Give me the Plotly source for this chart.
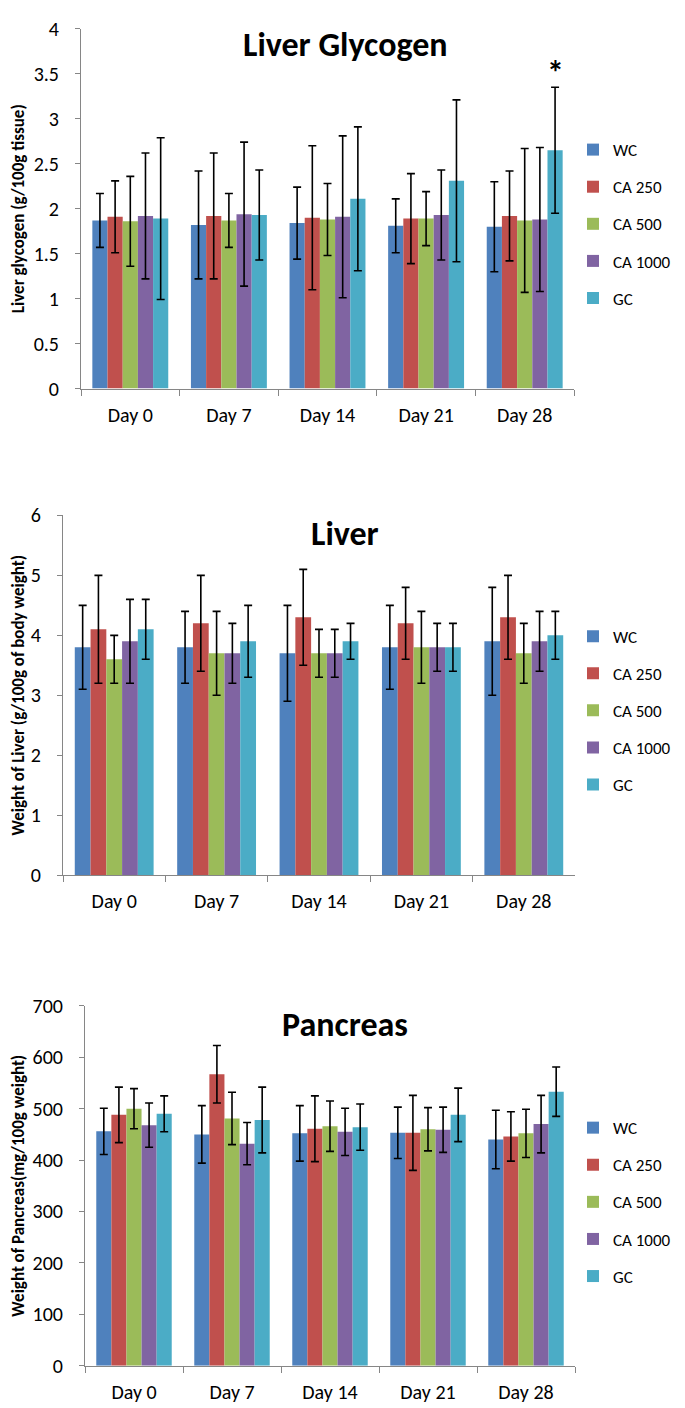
import plotly.graph_objects as go

days = ["Day 0", "Day 7", "Day 14", "Day 21", "Day 28"]
groups = ["WC", "CA 250", "CA 500", "CA 1000", "GC"]
colors = ["#4F81BD", "#C0504D", "#9BBB59", "#8064A2", "#4BACC6"]

# rows = groups (WC, CA 250, CA 500, CA 1000, GC), columns = days
glycogen_mean = [
    [1.87, 1.82, 1.84, 1.81, 1.80],
    [1.91, 1.92, 1.90, 1.89, 1.92],
    [1.86, 1.87, 1.88, 1.89, 1.87],
    [1.92, 1.94, 1.91, 1.93, 1.88],
    [1.89, 1.93, 2.11, 2.31, 2.65],
]
glycogen_err = [
    [0.30, 0.60, 0.40, 0.30, 0.50],
    [0.40, 0.70, 0.80, 0.50, 0.50],
    [0.50, 0.30, 0.40, 0.30, 0.80],
    [0.70, 0.80, 0.90, 0.50, 0.80],
    [0.90, 0.50, 0.80, 0.90, 0.70],
]
liver_mean = [
    [3.8, 3.8, 3.7, 3.8, 3.9],
    [4.1, 4.2, 4.3, 4.2, 4.3],
    [3.6, 3.7, 3.7, 3.8, 3.7],
    [3.9, 3.7, 3.7, 3.8, 3.9],
    [4.1, 3.9, 3.9, 3.8, 4.0],
]
liver_err = [
    [0.7, 0.6, 0.8, 0.7, 0.9],
    [0.9, 0.8, 0.8, 0.6, 0.7],
    [0.4, 0.7, 0.4, 0.6, 0.5],
    [0.7, 0.5, 0.4, 0.4, 0.5],
    [0.5, 0.6, 0.3, 0.4, 0.4],
]
pancreas_mean = [
    [456, 450, 452, 453, 440],
    [488, 567, 461, 453, 446],
    [500, 481, 466, 460, 452],
    [468, 432, 455, 459, 470],
    [490, 478, 464, 488, 533],
]
pancreas_err = [
    [45, 56, 54, 50, 57],
    [54, 56, 64, 73, 48],
    [39, 51, 49, 42, 47],
    [43, 41, 46, 44, 56],
    [35, 64, 45, 52, 48],
]

panel_titles = ["Liver Glycogen", "Liver", "Pancreas"]
y_titles = [
    "Liver glycogen (g/100g tissue)",
    "Weight of Liver (g/100g of body weight)",
    "Weight of Pancreas(mg/100g weight)",
]
y_ranges = [[0, 4], [0, 6], [0, 700]]
y_dticks = [0.5, 1, 100]
star_group = "GC"
star_day = "Day 28"

FONT = "Carlito, Lato, sans-serif"
W, H = 685, 1408
BARGAP = 0.23
AXIS_GREY = "#868686"

# layout in pixels: (left, right, top, bottom) of each plot area
areas = [(73, 566, 9, 375), (55, 567, 504, 870), (77, 567, 1003, 1369)]
legend_tops = [114, 609, 1109]
title_y = [25, 522, 1022]

means = [glycogen_mean, liver_mean, pancreas_mean]
errs = [glycogen_err, liver_err, pancreas_err]

fig = go.Figure()
layout = dict(
    width=W, height=H,
    margin=dict(l=0, r=0, t=0, b=0),
    paper_bgcolor="white", plot_bgcolor="white",
    barmode="group", bargap=BARGAP, bargroupgap=0,
    font=dict(family=FONT, size=20, color="black"),
    showlegend=True,
    annotations=[],
)

for p in range(3):
    sfx = "" if p == 0 else str(p + 1)
    l, r, t, b = areas[p]
    for i, g in enumerate(groups):
        fig.add_trace(go.Bar(
            x=days, y=means[p][i], name=g,
            marker=dict(color=colors[i], line=dict(width=0)),
            error_y=dict(type="data", array=errs[p][i], color="black",
                         thickness=1.6, width=4),
            xaxis="x" + sfx, yaxis="y" + sfx,
            legend="legend" + sfx, legendgroup=f"p{p}_{i}",
        ))
    layout["xaxis" + sfx] = dict(
        domain=[l / W, r / W], anchor="y" + sfx, type="category",
        showline=True, linecolor=AXIS_GREY, linewidth=1,
        ticks="outside", tickson="boundaries", ticklen=6, tickcolor=AXIS_GREY,
        ticklabelstandoff=8, tickfont=dict(size=20), showgrid=False,
        zeroline=False,
    )
    layout["yaxis" + sfx] = dict(
        domain=[1 - b / H, 1 - t / H], anchor="x" + sfx,
        range=y_ranges[p], dtick=y_dticks[p], tick0=0,
        showline=True, linecolor=AXIS_GREY, linewidth=1,
        ticks="outside", ticklen=5, tickcolor=AXIS_GREY,
        ticklabelstandoff=12, tickfont=dict(size=20), showgrid=False,
        zeroline=False,
        title=dict(text="<b>" + y_titles[p] + "</b>", font=dict(size=17), standoff=8),
    )
    layout["legend" + sfx] = dict(
        x=565 / W, xanchor="left", y=1 - legend_tops[p] / H, yanchor="top",
        font=dict(size=17), tracegroupgap=12, itemwidth=30,
        bgcolor="rgba(0,0,0,0)", borderwidth=0,
    )
    layout["annotations"].append(dict(
        text="<b>" + panel_titles[p] + "</b>", xref="paper", yref="paper",
        x=337 / W, y=1 - title_y[p] / H, xanchor="center", yanchor="middle",
        showarrow=False, font=dict(size=34, family=FONT),
    ))

# significance star above GC bar on Day 28 (glycogen panel)
gi = groups.index(star_group)
di = days.index(star_day)
n = len(groups)
offset = (gi - (n - 1) / 2) * (1 - BARGAP) / n
layout["annotations"].append(dict(
    text="<b>*</b>", xref="x", yref="y", x=di + offset,
    y=glycogen_mean[gi][di] + glycogen_err[gi][di],
    xanchor="center", yanchor="bottom", yshift=-8, showarrow=False,
    font=dict(size=34, family=FONT),
))

fig.update_layout(**layout)
fig.write_html("out.html")
